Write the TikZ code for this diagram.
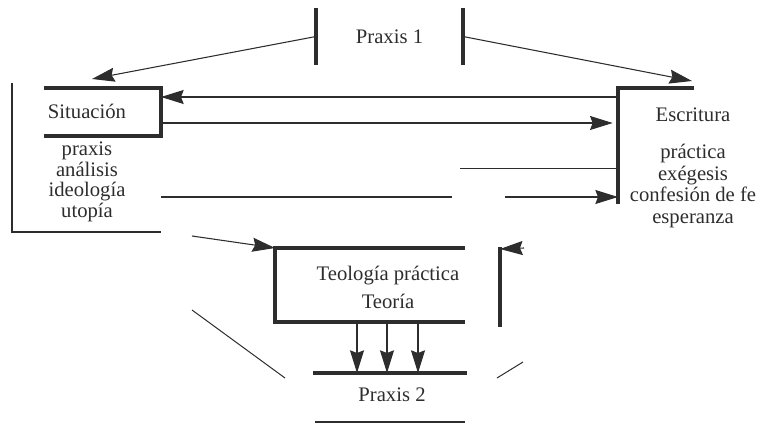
\documentclass[tikz,border=0pt]{standalone}
\usepackage{fontspec}
\setmainfont{Liberation Serif}
\usetikzlibrary{arrows.meta,positioning,calc,fit}
\definecolor{ink}{RGB}{45,45,45}
\tikzset{
  every picture/.style={color=ink, line width=0.75pt},
  area/.style={inner sep=0pt, outer sep=0pt},
  heavy/.style={line width=2.6pt, line cap=rect},
  rule/.style={line width=1.2pt},
  flow/.style={-{Stealth[length=17pt,width=10.5pt,inset=2pt]}, line width=0.8pt},
  lbl/.style={font=\fontsize{15.5}{19}\selectfont, text=ink, inner sep=0pt},
  items/.style={lbl, align=center, font=\fontsize{15.5}{15.5}\selectfont},
}

\begin{document}
\begin{tikzpicture}[x=0.75pt, y=-0.75pt]
  \useasboundingbox (0,0) rectangle (759,423);
  % box areas, their visible sides are drawn below
  \node[area, fit={(316,10) (463,63)}] (P1) {};
  \node[area, fit={(46,88) (161,136)}] (sit) {};
  \node[area, fit={(12,83) (161,232)}] (sitall) {};
  \node[area, fit={(618,88) (692,202)}] (esc) {};
  \node[area, fit={(275,248) (463,322)}] (teo) {};
  \node[area, fit={(315,373) (465,422)}] (P2) {};

  \node[lbl] (P1txt) at (P1) {Praxis 1};
  \node[lbl] (sittxt) at (87,111) {Situación};
  \node[items] (sitlist) at (87,182) {praxis\\ análisis\\ ideología\\ utopía};
  \node[lbl] (esctxt) at (693,115) {Escritura};
  \node[items, font=\fontsize{15.5}{16.3}\selectfont] (esclist) at (693,186) {práctica\\ exégesis\\ confesión de fe\\ esperanza};
  \node[lbl, align=center, font=\fontsize{15.5}{21}\selectfont] (teotxt) at (388,287) {Teología práctica\\ Teoría};
  \node[lbl] (P2txt) at (392,395) {Praxis 2};

  \draw[heavy] (P1.north west) -- (P1.south west);
  \draw[heavy] (P1.north east) -- (P1.south east);
  \draw[heavy] (sit.north west) -- (sit.north east) -- (sit.south east) -- (sit.south west);
  \draw[rule] (sitall.north west) -- (sitall.south west) -- (sitall.south east);
  \draw[heavy] (esc.north east) -- (esc.north west) -- (esc.south west);
  \draw[heavy] (teo.north east) -- (teo.north west) -- (teo.south west) -- (teo.south east);
  \draw[heavy] (P2.north west) -- (P2.north east);
  \draw[rule] (P2.south west) -- (P2.south east);

  \coordinate (sitin) at (92,79);
  \coordinate (escin) at (692,81);
  \draw[flow] (P1.west) -- (sitin);
  \draw[flow] (P1.east) -- (escin);
  \draw[flow] ($(esc.north west)+(0,9)$) -- ($(sit.north east)+(0,9)$);
  \draw[flow, shorten >=4pt] ($(sit.north east)+(0,35)$) -- ($(esc.north west)+(0,35)$);
  \draw[flow, dash pattern=on 218pt off 40pt on 200pt] ($(sit.south east)+(0,61)$) -- ($(esc.north west)+(0,109)$);
  \coordinate (escrule) at (460,169);
  \draw (escrule) -- (esc.west |- escrule);

  \coordinate (teoin) at (192,236);
  \draw[flow] (teoin) -- (teo.north west);
  \foreach \x in {357,387,418}
    \draw[flow] (\x,0 |- teo.south) -- (\x,0 |- P2.north);
  \coordinate (slashA) at (192,310);
  \coordinate (slashB) at (285,378);
  \draw (slashA) -- (slashB);

  \coordinate (barlo) at (500,325);
  \coordinate (barhi) at (500,249);
  \coordinate (flag) at (524,248);
  \draw[heavy] (barlo) -- (barhi);
  \draw[flow] (flag) -- (barhi);
  \coordinate (slashC) at (497,378);
  \coordinate (slashD) at (523,362);
  \draw (slashC) -- (slashD);
\end{tikzpicture}
\end{document}
